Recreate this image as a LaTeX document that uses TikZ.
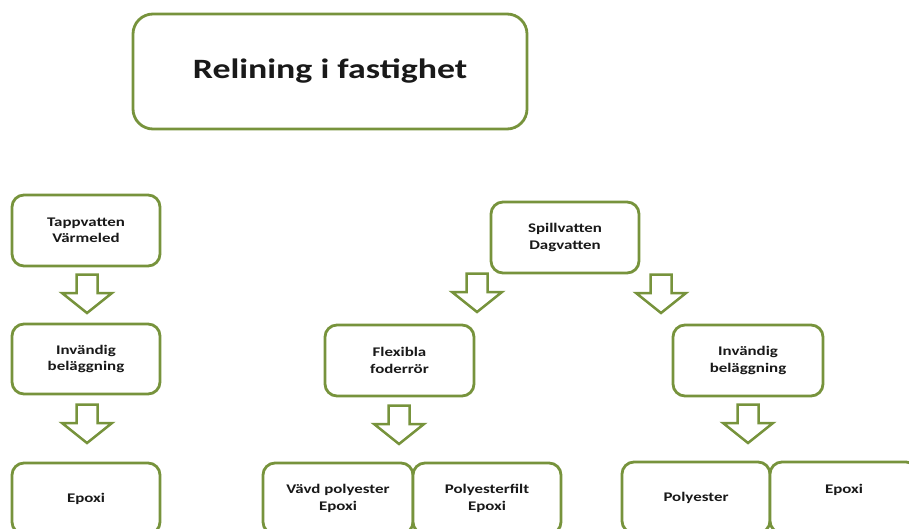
\documentclass[tikz,border=0pt]{standalone}
\usepackage{fontspec}
\newfontfamily\cf{Carlito}[FakeStretch=1.28]
\definecolor{boxgreen}{HTML}{77933C}
\begin{document}
\begin{tikzpicture}[x=1pt,y=-1pt,
  box/.style={draw=boxgreen, line width=2.8pt, rounded corners=12pt, fill=white,
    align=center, inner sep=0pt, font=\cf\bfseries\fontsize{13.2}{16.5}\selectfont, text=black!90},
  titlebox/.style={box, rounded corners=20pt, font=\cf\bfseries\fontsize{28}{32}\selectfont},
  barrow/.style={draw=boxgreen, line width=2.5pt, fill=white, line join=miter}]
\useasboundingbox (0,0) rectangle (909,529);
\clip (0,0) rectangle (909,529);
% boxes: centre and size
\node[titlebox, minimum width=394pt, minimum height=115pt] (title) at (330,71.5) {Relining i fastighet};
\node[box, minimum width=148pt, minimum height=71pt] (tapp) at (86,230.5) {Tappvatten\\Värmeled};
\node[box, minimum width=148pt, minimum height=70pt] (invL) at (86,359) {Invändig\\beläggning};
\node[box, minimum width=148pt, minimum height=71pt] (epoxL) at (86,498.5) {Epoxi};
\node[box, minimum width=148pt, minimum height=71pt] (spill) at (565,237.5) {Spillvatten\\Dagvatten};
\node[box, minimum width=149pt, minimum height=71pt] (flex) at (399.5,360.5) {Flexibla\\foderrör};
\node[box, minimum width=150pt, minimum height=71pt] (invR) at (748,360.5) {Invändig\\beläggning};
\node[box, minimum width=150pt, minimum height=71pt] (vavd) at (338,498.5) {Vävd polyester\\Epoxi};
\node[box, minimum width=148pt, minimum height=71pt] (pfilt) at (487,498.5) {Polyesterfilt\\Epoxi};
\node[box, minimum width=148pt, minimum height=71pt] (poly) at (696,497.5) {Polyester};
\node[box, minimum width=148pt, minimum height=71pt] (epoxR) at (844,497.5) {};
\node[font=\cf\bfseries\fontsize{13.2}{16.5}\selectfont, text=black!90, inner sep=0pt] (epoxRt) at ([yshift=8pt]epoxR.center) {Epoxi};
% block arrows: top-centre coordinates
\newcommand{\blockarrow}[1]{%
  \draw[barrow] ([xshift=-10.5pt,yshift=-0.5pt]#1) -- ++(0,18.5) -- ++(-14.5,0) -- ++(25,20) -- ++(25,-20) -- ++(-14.5,0) -- ++(0,-18.5) -- cycle;}
\coordinate (a1) at (87,274);
\coordinate (a2) at (87,404);
\coordinate (a3) at (477,273);
\coordinate (a4) at (661,274);
\coordinate (a5) at (399,405);
\coordinate (a6) at (748,404);
\blockarrow{a1}
\blockarrow{a2}
\blockarrow{a3}
\blockarrow{a4}
\blockarrow{a5}
\blockarrow{a6}
\end{tikzpicture}
\end{document}
